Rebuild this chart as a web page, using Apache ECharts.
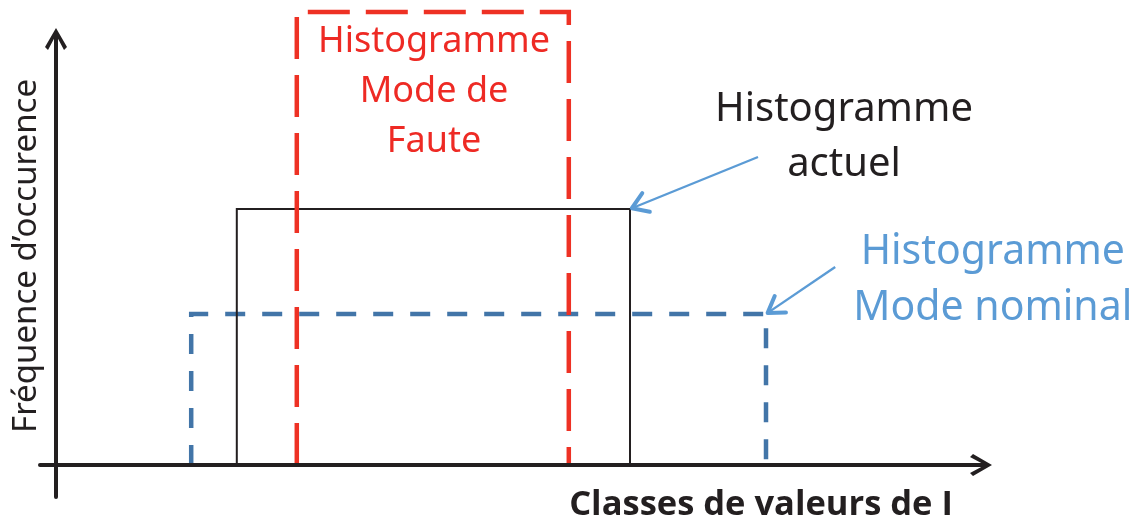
<!doctype html>
<html lang="fr">
<head>
<meta charset="UTF-8">
<title>Histogrammes</title>
<script src="https://cdn.jsdelivr.net/npm/echarts@6/dist/echarts.min.js"></script>
<style>
    html, body { margin: 0; padding: 0; background: #fff; }
    #chart { width: 1141px; height: 524px; }
</style>
</head>
<body>
<div id="chart"></div>
<script type="text/javascript">
    // histogrammes : nominal, actuel, mode de faute
    var histNames = ['Histogramme\nMode nominal', 'Histogramme\nactuel', 'Histogramme\nMode de\nFaute'];
    var classStart = [16.9, 22.6, 30.1];
    var classEnd = [88.75, 71.75, 64.1];
    var frequency = [37.75, 64, 113.25];
    // départ des flèches (la pointe va au coin haut-droit du rectangle)
    var arrowFrom = [[97.4, 49.5], [87.75, 77], null];
    // centre des étiquettes
    var labelAt = [[117.1, 46.25], [98.5, 81.9], [47.25, 93.4]];

    var ink = '#231f20';
    var arrowPath = 'path://M11,0 L22,19 L19,22 L13,10.75 L13,22 L9,22 L9,10.75 L3,22 L0,19 Z';

    var styles = [
        {stroke: '#4275a8', width: 4.5, dash: [20, 17], text: '#5b9bd5', font: 41, lh: 56},
        {stroke: ink, width: 2, dash: null, text: ink, font: 40, lh: 55},
        {stroke: '#ee3124', width: 4.5, dash: [42, 16], text: '#ee2a24', font: 36, lh: 50}
    ];

    var makeRender = function (i) {
        var s = styles[i];
        return function (params, api) {
            var x0 = api.value(0), x1 = api.value(1), h = api.value(2);
            var p0 = api.coord([x0, 0]);
            var p1 = api.coord([x0, h]);
            var p2 = api.coord([x1, h]);
            var p3 = api.coord([x1, 0]);
            var children = [{
                type: 'polyline',
                shape: {points: [p0, p1, p2, p3]},
                style: {stroke: s.stroke, lineWidth: s.width, lineDash: s.dash, fill: null, lineJoin: 'miter'}
            }];
            var lp = api.coord(labelAt[i]);
            children.push({
                type: 'text',
                x: lp[0], y: lp[1],
                style: {
                    text: histNames[i], fill: s.text, fontSize: s.font, fontFamily: 'Noto Sans',
                    lineHeight: s.lh, align: 'center', verticalAlign: 'middle'
                }
            });
            if (arrowFrom[i]) {
                var from = api.coord(arrowFrom[i]);
                var a = Math.atan2(from[1] - p2[1], from[0] - p2[0]);
                var L = 20, t = 30 * Math.PI / 180;
                children.push({
                    type: 'line',
                    shape: {x1: from[0], y1: from[1], x2: p2[0] + 2 * Math.cos(a), y2: p2[1] + 2 * Math.sin(a)},
                    style: {stroke: '#5b9bd5', lineWidth: 2.4}
                });
                children.push({
                    type: 'polyline',
                    shape: {points: [
                        [p2[0] + L * Math.cos(a + t), p2[1] + L * Math.sin(a + t)],
                        [p2[0] + 2 * Math.cos(a), p2[1] + 2 * Math.sin(a)],
                        [p2[0] + L * Math.cos(a - t), p2[1] + L * Math.sin(a - t)]
                    ]},
                    style: {stroke: '#5b9bd5', lineWidth: 4, fill: null, lineCap: 'round', lineJoin: 'round'}
                });
            }
            return {type: 'group', children: children};
        };
    };

    var series = [];
    for (var i = 0; i < 3; i++) {
        series.push({
            type: 'custom',
            name: histNames[i],
            clip: false,
            z: 2 + i,
            renderItem: makeRender(i),
            data: [[classStart[i], classEnd[i], frequency[i]]]
        });
    }

    var axisCommon = {
        type: 'value',
        z: 10,
        axisLine: {
            show: true, onZero: true,
            symbol: ['none', arrowPath], symbolSize: [22, 22],
            lineStyle: {color: ink, width: 4}
        },
        axisTick: {show: false},
        axisLabel: {show: false},
        splitLine: {show: false}
    };

    var myChart = echarts.init(document.getElementById('chart'));
    var option = {
        backgroundColor: '#fff',
        animation: false,
        grid: {left: 40, right: 160, top: 39, bottom: 27},
        xAxis: Object.assign({}, axisCommon, {min: -2, max: 115.625}),
        yAxis: Object.assign({}, axisCommon, {min: -8, max: 106.5}),
        graphic: [
            {
                type: 'text', x: 27, y: 256, rotation: Math.PI / 2,
                style: {text: 'Fréquence d\u2019occurence', fill: ink, fontSize: 33, fontFamily: 'Noto Sans',
                    align: 'center', verticalAlign: 'middle'}
            },
            {
                type: 'text', x: 761, y: 505,
                style: {text: 'Classes de valeurs de I', fill: ink, fontSize: 34.5, fontWeight: 'bold',
                    fontFamily: 'Open Sans', align: 'center', verticalAlign: 'middle'}
            }
        ],
        series: series
    };
    myChart.setOption(option);
</script>
</body>
</html>
